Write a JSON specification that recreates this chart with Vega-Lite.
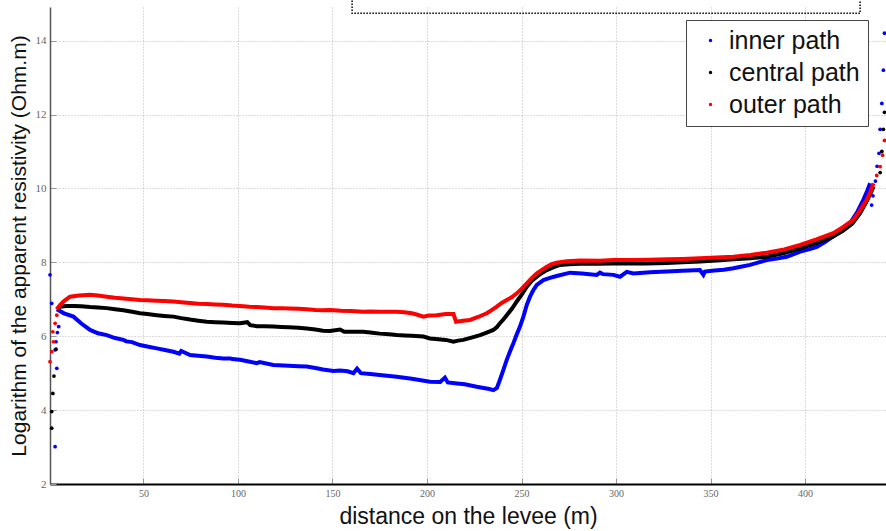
{
  "$schema": "https://vega.github.io/schema/vega-lite/v6.json",
  "width": 836,
  "height": 477,
  "autosize": {"type": "none"},
  "padding": {"left": 50, "top": 7, "right": 0, "bottom": 47},
  "background": "white",
  "config": {
    "view": {"stroke": null},
    "font": "Liberation Sans",
    "axis": {
      "gridColor": "#888888",
      "gridDash": [1, 2],
      "gridOpacity": 0.6,
      "labelColor": "#666666",
      "labelFont": "Liberation Sans Narrow",
      "tickColor": "#999999",
      "titleFont": "Liberation Sans",
      "titleFontWeight": "normal",
      "titleColor": "#111111"
    }
  },
  "datasets": {
    "box": [{"x1": 160.4, "x2": 429.1, "y1": 14.74, "y2": 15.6}],
    "inner_line": [
      {"x":4.2,"y":6.73},{"x":8,"y":6.62},{"x":13,"y":6.53},{"x":17,"y":6.35},{"x":21.8,"y":6.17},{"x":26,"y":6.08},{"x":30.6,"y":6.03},{"x":35,"y":5.95},{"x":39.4,"y":5.9},{"x":41,"y":5.86},{"x":44,"y":5.84},{"x":48.2,"y":5.76},{"x":52,"y":5.72},{"x":57.1,"y":5.67},{"x":62,"y":5.62},{"x":65.9,"y":5.58},{"x":69,"y":5.53},{"x":70,"y":5.6},{"x":74.7,"y":5.49},{"x":79,"y":5.47},{"x":83.5,"y":5.45},{"x":88,"y":5.42},{"x":92.3,"y":5.4},{"x":96,"y":5.4},{"x":97,"y":5.38},{"x":101.1,"y":5.36},{"x":105,"y":5.32},{"x":110,"y":5.27},{"x":111.5,"y":5.3},{"x":118.7,"y":5.22},{"x":127,"y":5.2},{"x":132,"y":5.19},{"x":136.4,"y":5.18},{"x":141,"y":5.14},{"x":145,"y":5.1},{"x":150.5,"y":5.06},{"x":154,"y":5.07},{"x":158,"y":5.05},{"x":161.1,"y":5.0},{"x":163,"y":5.12},{"x":165,"y":5.0},{"x":170,"y":4.98},{"x":175,"y":4.95},{"x":184,"y":4.9},{"x":192,"y":4.85},{"x":201.6,"y":4.77},{"x":207,"y":4.76},{"x":209.5,"y":4.88},{"x":211,"y":4.75},{"x":216,"y":4.72},{"x":220,"y":4.7},{"x":226.3,"y":4.63},{"x":230,"y":4.6},{"x":233,"y":4.57},{"x":235.1,"y":4.54},{"x":237,"y":4.6},{"x":238.6,"y":4.82},{"x":240.5,"y":5.1},{"x":242.2,"y":5.36},{"x":244,"y":5.6},{"x":245.7,"y":5.81},{"x":247.5,"y":6.05},{"x":249.2,"y":6.26},{"x":251,"y":6.53},{"x":252.8,"y":6.85},{"x":254.5,"y":7.07},{"x":256.3,"y":7.25},{"x":258.1,"y":7.39},{"x":261.6,"y":7.52},{"x":265,"y":7.58},{"x":268.6,"y":7.63},{"x":275.7,"y":7.72},{"x":282,"y":7.7},{"x":289.8,"y":7.66},{"x":291.5,"y":7.72},{"x":293,"y":7.68},{"x":298.6,"y":7.66},{"x":302.1,"y":7.61},{"x":305.7,"y":7.74},{"x":309.2,"y":7.7},{"x":318,"y":7.73},{"x":326.8,"y":7.75},{"x":335,"y":7.77},{"x":344.4,"y":7.79},{"x":346.2,"y":7.66},{"x":347,"y":7.75},{"x":352,"y":7.78},{"x":357,"y":7.8},{"x":362.1,"y":7.84},{"x":366,"y":7.88},{"x":370.9,"y":7.93},{"x":375,"y":7.99},{"x":379.7,"y":8.06},{"x":385,"y":8.1},{"x":390.3,"y":8.15},{"x":394,"y":8.22},{"x":397.4,"y":8.29},{"x":402,"y":8.35},{"x":406.2,"y":8.42},{"x":410.5,"y":8.55},{"x":414.9,"y":8.7},{"x":419,"y":8.85},{"x":423.8,"y":9.06},{"x":427.5,"y":9.35},{"x":430.8,"y":9.69},{"x":432.6,"y":9.9},{"x":434.4,"y":10.14}
    ],
    "inner_dots": [
      {"x":0.6,"y":7.66},{"x":1.5,"y":6.89},{"x":3.3,"y":5.63},{"x":3.8,"y":5.85},{"x":4.2,"y":5.13},{"x":4.5,"y":6.1},{"x":5.2,"y":6.26},{"x":3.3,"y":3.01},
      {"x":435.2,"y":9.55},{"x":435.9,"y":9.8},{"x":437.2,"y":10.2},{"x":438.1,"y":10.6},{"x":439.1,"y":10.95},{"x":439.7,"y":11.6},{"x":440.6,"y":12.3},{"x":441.4,"y":13.2},{"x":442,"y":14.2}
    ],
    "central_line": [
      {"x":4.2,"y":6.73},{"x":5.9,"y":6.8},{"x":9,"y":6.82},{"x":13,"y":6.82},{"x":17,"y":6.81},{"x":21.8,"y":6.79},{"x":26,"y":6.78},{"x":30.6,"y":6.76},{"x":35,"y":6.73},{"x":39.4,"y":6.7},{"x":44,"y":6.66},{"x":48.2,"y":6.62},{"x":52,"y":6.6},{"x":57.1,"y":6.57},{"x":61,"y":6.55},{"x":65.9,"y":6.53},{"x":70,"y":6.49},{"x":74.7,"y":6.45},{"x":79,"y":6.42},{"x":83.5,"y":6.39},{"x":88,"y":6.38},{"x":92.3,"y":6.37},{"x":97,"y":6.36},{"x":101.1,"y":6.35},{"x":105,"y":6.38},{"x":106.5,"y":6.3},{"x":110,"y":6.27},{"x":114,"y":6.27},{"x":118.7,"y":6.26},{"x":123,"y":6.25},{"x":127,"y":6.24},{"x":132,"y":6.23},{"x":136.4,"y":6.21},{"x":141,"y":6.18},{"x":145,"y":6.15},{"x":148.7,"y":6.14},{"x":154,"y":6.18},{"x":156.3,"y":6.12},{"x":161,"y":6.12},{"x":166.3,"y":6.12},{"x":170,"y":6.1},{"x":175,"y":6.07},{"x":180,"y":6.05},{"x":184,"y":6.03},{"x":188,"y":6.02},{"x":192,"y":6.01},{"x":198.1,"y":5.99},{"x":201.6,"y":5.94},{"x":206,"y":5.92},{"x":210,"y":5.9},{"x":214,"y":5.85},{"x":216.5,"y":5.88},{"x":219.2,"y":5.9},{"x":224,"y":5.97},{"x":228.1,"y":6.03},{"x":231.6,"y":6.1},{"x":235.1,"y":6.17},{"x":237,"y":6.25},{"x":238.6,"y":6.35},{"x":240.5,"y":6.46},{"x":242.2,"y":6.57},{"x":245,"y":6.75},{"x":247.5,"y":6.94},{"x":250,"y":7.12},{"x":252.8,"y":7.34},{"x":255.5,"y":7.5},{"x":258.1,"y":7.61},{"x":261,"y":7.72},{"x":263.4,"y":7.79},{"x":267,"y":7.87},{"x":270.4,"y":7.93},{"x":275,"y":7.95},{"x":280.9,"y":7.96},{"x":290,"y":7.96},{"x":298.6,"y":7.97},{"x":307.4,"y":7.97},{"x":316,"y":7.97},{"x":326.8,"y":7.98},{"x":335,"y":8.0},{"x":344.4,"y":8.02},{"x":353,"y":8.05},{"x":362.1,"y":8.08},{"x":371,"y":8.11},{"x":379.7,"y":8.15},{"x":389,"y":8.25},{"x":397.4,"y":8.38},{"x":406,"y":8.52},{"x":414.9,"y":8.7},{"x":420,"y":8.85},{"x":425,"y":9.05},{"x":429.1,"y":9.33},{"x":432,"y":9.6},{"x":434.5,"y":9.85},{"x":436.2,"y":10.05}
    ],
    "central_dots": [
      {"x":1.5,"y":3.51},{"x":1.5,"y":3.96},{"x":2.1,"y":4.45},{"x":2.7,"y":4.92},{"x":3.8,"y":5.65},
      {"x":439.7,"y":10.43},{"x":440.6,"y":11.0},{"x":441.4,"y":11.6},{"x":442,"y":12.06}
    ],
    "outer_line": [
      {"x":4.2,"y":6.73},{"x":6,"y":6.85},{"x":8,"y":6.95},{"x":11.2,"y":7.07},{"x":16,"y":7.1},{"x":21.8,"y":7.12},{"x":26,"y":7.1},{"x":30.6,"y":7.07},{"x":35,"y":7.04},{"x":39.4,"y":7.02},{"x":44,"y":7.0},{"x":48.2,"y":6.98},{"x":52,"y":6.97},{"x":57.1,"y":6.96},{"x":61,"y":6.95},{"x":65.9,"y":6.94},{"x":70,"y":6.92},{"x":74.7,"y":6.9},{"x":79,"y":6.88},{"x":83.5,"y":6.87},{"x":88,"y":6.86},{"x":92.3,"y":6.85},{"x":97,"y":6.83},{"x":101.1,"y":6.82},{"x":106,"y":6.8},{"x":110,"y":6.79},{"x":114,"y":6.78},{"x":118.7,"y":6.76},{"x":123,"y":6.76},{"x":127,"y":6.75},{"x":132,"y":6.74},{"x":136.4,"y":6.73},{"x":141,"y":6.71},{"x":145,"y":6.7},{"x":148.7,"y":6.71},{"x":154.5,"y":6.69},{"x":160,"y":6.68},{"x":166.3,"y":6.66},{"x":170,"y":6.67},{"x":175,"y":6.66},{"x":180,"y":6.66},{"x":184,"y":6.66},{"x":188,"y":6.65},{"x":192,"y":6.62},{"x":195,"y":6.58},{"x":198.1,"y":6.53},{"x":201,"y":6.56},{"x":205,"y":6.57},{"x":210,"y":6.6},{"x":214,"y":6.6},{"x":215.4,"y":6.39},{"x":219,"y":6.42},{"x":222.8,"y":6.44},{"x":227,"y":6.52},{"x":231.6,"y":6.62},{"x":234,"y":6.7},{"x":236.9,"y":6.8},{"x":239.5,"y":6.9},{"x":242.2,"y":6.98},{"x":245,"y":7.06},{"x":247.5,"y":7.16},{"x":250,"y":7.28},{"x":252.8,"y":7.43},{"x":255.5,"y":7.58},{"x":258.1,"y":7.7},{"x":261,"y":7.8},{"x":263.4,"y":7.88},{"x":266,"y":7.95},{"x":268.6,"y":7.99},{"x":274,"y":8.03},{"x":280.9,"y":8.05},{"x":291.5,"y":8.04},{"x":298.6,"y":8.06},{"x":309.2,"y":8.06},{"x":318,"y":8.07},{"x":326.8,"y":8.08},{"x":335,"y":8.09},{"x":344.4,"y":8.11},{"x":353,"y":8.13},{"x":362.1,"y":8.15},{"x":371,"y":8.2},{"x":379.7,"y":8.26},{"x":389,"y":8.35},{"x":397.4,"y":8.47},{"x":406,"y":8.62},{"x":414.9,"y":8.79},{"x":420,"y":8.95},{"x":425.5,"y":9.15},{"x":429,"y":9.4},{"x":432.6,"y":9.69},{"x":434.5,"y":9.9},{"x":436.2,"y":10.14}
    ],
    "outer_dots": [
      {"x":0.6,"y":5.31},{"x":1.5,"y":5.58},{"x":2.1,"y":6.12},{"x":2.4,"y":5.85},{"x":3.3,"y":6.35},{"x":4.2,"y":6.57},
      {"x":437.9,"y":10.35},{"x":439.7,"y":10.59},{"x":441,"y":10.9},{"x":442,"y":11.3}
    ]
  },
  "layer": [
    {
      "data": {"name": "box"},
      "mark": {"type": "rect", "fill": null, "fillOpacity": 0, "stroke": "#000000", "strokeWidth": 1.5, "strokeDash": [1.5, 1.5]},
      "encoding": {
        "x": {"field": "x1", "type": "quantitative", "scale": {"domain": [0.6, 442.8], "nice": false, "zero": false}, "title": "distance on the levee (m)",
          "axis": {"values": [50, 100, 150, 200, 250, 300, 350, 400], "labelFontSize": 10, "labelPadding": 10, "tickSize": -6, "domainColor": "#000000", "domainWidth": 2, "titleFontSize": 23, "titlePadding": 7}},
        "x2": {"field": "x2"},
        "y": {"field": "y1", "type": "quantitative", "scale": {"domain": [2, 14.91], "nice": false, "zero": false}, "title": "Logarithm of the apparent resistivity (Ohm.m)",
          "axis": {"values": [2, 4, 6, 8, 10, 12, 14], "labelFontSize": 11, "labelPadding": 10, "tickSize": -6, "domainColor": "#555555", "domainWidth": 1.5, "titleFontSize": 21, "titlePadding": 6}},
        "y2": {"field": "y2"}
      }
    },
    {
      "data": {"name": "inner_line"},
      "mark": {"type": "line", "color": "#0000ff", "strokeWidth": 4},
      "encoding": {
        "x": {"field": "x", "type": "quantitative", "title": "distance on the levee (m)"},
        "y": {"field": "y", "type": "quantitative", "title": "Logarithm of the apparent resistivity (Ohm.m)"}
      }
    },
    {
      "data": {"name": "inner_dots"},
      "mark": {"type": "point", "filled": true, "size": 14, "opacity": 1},
      "encoding": {
        "x": {"field": "x", "type": "quantitative", "title": "distance on the levee (m)"},
        "y": {"field": "y", "type": "quantitative", "title": "Logarithm of the apparent resistivity (Ohm.m)"},
        "color": {"datum": "inner path", "type": "nominal",
          "scale": {"domain": ["inner path", "central path", "outer path"], "range": ["#0000ff", "#000000", "#ff0000"]},
          "legend": {"title": null, "orient": "none", "legendX": 636, "legendY": 13, "padding": 8, "labelFontSize": 25, "labelFont": "Liberation Sans", "labelColor": "#111111", "symbolType": "circle", "symbolSize": 12, "symbolOffset": 4, "labelOffset": 6, "rowPadding": 6, "strokeColor": "#444444", "fillColor": "#ffffff"}}
      }
    },
    {
      "data": {"name": "central_line"},
      "mark": {"type": "line", "color": "#000000", "strokeWidth": 4},
      "encoding": {
        "x": {"field": "x", "type": "quantitative", "title": "distance on the levee (m)"},
        "y": {"field": "y", "type": "quantitative", "title": "Logarithm of the apparent resistivity (Ohm.m)"}
      }
    },
    {
      "data": {"name": "central_dots"},
      "mark": {"type": "point", "filled": true, "size": 14, "opacity": 1},
      "encoding": {
        "x": {"field": "x", "type": "quantitative", "title": "distance on the levee (m)"},
        "y": {"field": "y", "type": "quantitative", "title": "Logarithm of the apparent resistivity (Ohm.m)"},
        "color": {"datum": "central path", "type": "nominal"}
      }
    },
    {
      "data": {"name": "outer_line"},
      "mark": {"type": "line", "color": "#ff0000", "strokeWidth": 4},
      "encoding": {
        "x": {"field": "x", "type": "quantitative", "title": "distance on the levee (m)"},
        "y": {"field": "y", "type": "quantitative", "title": "Logarithm of the apparent resistivity (Ohm.m)"}
      }
    },
    {
      "data": {"name": "outer_dots"},
      "mark": {"type": "point", "filled": true, "size": 14, "opacity": 1},
      "encoding": {
        "x": {"field": "x", "type": "quantitative", "title": "distance on the levee (m)"},
        "y": {"field": "y", "type": "quantitative", "title": "Logarithm of the apparent resistivity (Ohm.m)"},
        "color": {"datum": "outer path", "type": "nominal"}
      }
    }
  ]
}
